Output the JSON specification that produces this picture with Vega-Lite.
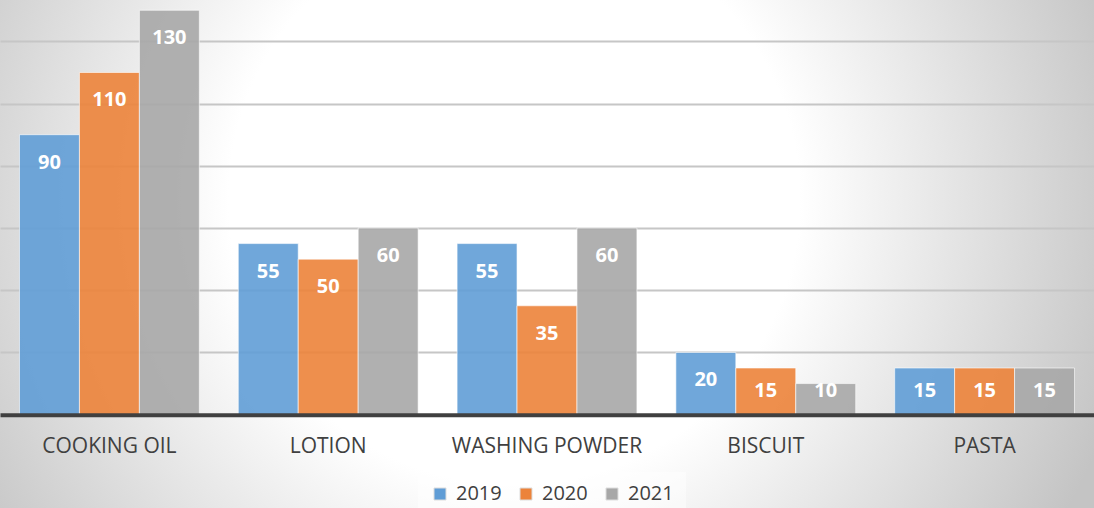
{
  "$schema": "https://vega.github.io/schema/vega-lite/v6.json",
  "width": 1094,
  "height": 508,
  "autosize": {"type": "none"},
  "padding": 0,
  "background": "#ffffff",
  "data": {
    "values": [
      {"category": "COOKING OIL", "year": "2019", "value": 90},
      {"category": "COOKING OIL", "year": "2020", "value": 110},
      {"category": "COOKING OIL", "year": "2021", "value": 130},
      {"category": "LOTION", "year": "2019", "value": 55},
      {"category": "LOTION", "year": "2020", "value": 50},
      {"category": "LOTION", "year": "2021", "value": 60},
      {"category": "WASHING POWDER", "year": "2019", "value": 55},
      {"category": "WASHING POWDER", "year": "2020", "value": 35},
      {"category": "WASHING POWDER", "year": "2021", "value": 60},
      {"category": "BISCUIT", "year": "2019", "value": 20},
      {"category": "BISCUIT", "year": "2020", "value": 15},
      {"category": "BISCUIT", "year": "2021", "value": 10},
      {"category": "PASTA", "year": "2019", "value": 15},
      {"category": "PASTA", "year": "2020", "value": 15},
      {"category": "PASTA", "year": "2021", "value": 15}
    ]
  },
  "encoding": {
    "x": {
      "field": "category",
      "type": "nominal",
      "sort": null,
      "scale": {"paddingInner": 0.178, "paddingOuter": 0.089},
      "axis": {
        "title": null,
        "orient": "bottom",
        "offset": -93.3,
        "domainColor": "#404040",
        "domainWidth": 4,
        "ticks": false,
        "tickSize": 0,
        "labelFont": "Open Sans",
        "labelFontSize": 21,
        "labelColor": "#404040",
        "labelPadding": 38,
        "labelBaseline": "alphabetic",
        "labelAngle": 0,
        "labelLimit": 400,
        "zindex": 1
      }
    },
    "xOffset": {
      "field": "year",
      "type": "nominal",
      "sort": null,
      "scale": {"paddingInner": 0, "paddingOuter": 0}
    },
    "y": {
      "field": "value",
      "type": "quantitative",
      "scale": {"domain": [-30, 133.3], "nice": false, "zero": false},
      "axis": {
        "orient": "left",
        "title": null,
        "domain": false,
        "ticks": false,
        "labels": false,
        "grid": true,
        "values": [20, 40, 60, 80, 100, 120],
        "gridColor": "#c6c6c6",
        "gridWidth": 2,
        "zindex": 0
      }
    }
  },
  "layer": [
    {
      "mark": {
        "type": "bar",
        "fillOpacity": 0.9,
        "stroke": "#ffffff",
        "strokeOpacity": 0.6,
        "strokeWidth": 1
      },
      "encoding": {
        "y2": {"datum": 0},
        "color": {
          "field": "year",
          "type": "nominal",
          "scale": {
            "domain": ["2019", "2020", "2021"],
            "range": ["#609DD6", "#EC833A", "#A7A7A7"]
          },
          "legend": {
            "title": null,
            "orient": "none",
            "direction": "horizontal",
            "legendX": 418,
            "legendY": 472,
            "padding": 12,
            "fillColor": "rgba(255,255,255,0.45)",
            "symbolType": "square",
            "symbolSize": 144,
            "symbolStrokeColor": "#dddddd",
            "symbolStrokeWidth": 1,
            "labelFont": "Open Sans",
            "labelFontSize": 20,
            "labelColor": "#404040",
            "labelOffset": 6,
            "columnPadding": 14
          }
        }
      }
    },
    {
      "transform": [{"filter": "datum.value >= 20"}],
      "mark": {
        "type": "text",
        "font": "Open Sans",
        "fontSize": 20,
        "fontWeight": "bold",
        "color": "#ffffff",
        "baseline": "alphabetic",
        "align": "center",
        "dy": 34
      },
      "encoding": {
        "text": {"field": "value", "type": "quantitative"}
      }
    },
    {
      "transform": [{"filter": "datum.value < 20"}],
      "mark": {
        "type": "text",
        "font": "Open Sans",
        "fontSize": 20,
        "fontWeight": "bold",
        "color": "#ffffff",
        "baseline": "alphabetic",
        "align": "center"
      },
      "encoding": {
        "y": {"datum": 5.7, "type": "quantitative"},
        "text": {"field": "value", "type": "quantitative"}
      }
    }
  ],
  "config": {
    "font": "Open Sans",
    "view": {
      "stroke": null,
      "fill": {
        "gradient": "radial",
        "x1": 0.47, "y1": 0.45, "r1": 0,
        "x2": 0.47, "y2": 0.45, "r2": 0.58,
        "stops": [
          {"offset": 0, "color": "#ffffff"},
          {"offset": 0.45, "color": "#ffffff"},
          {"offset": 1, "color": "#c4c4c4"}
        ]
      }
    }
  }
}
